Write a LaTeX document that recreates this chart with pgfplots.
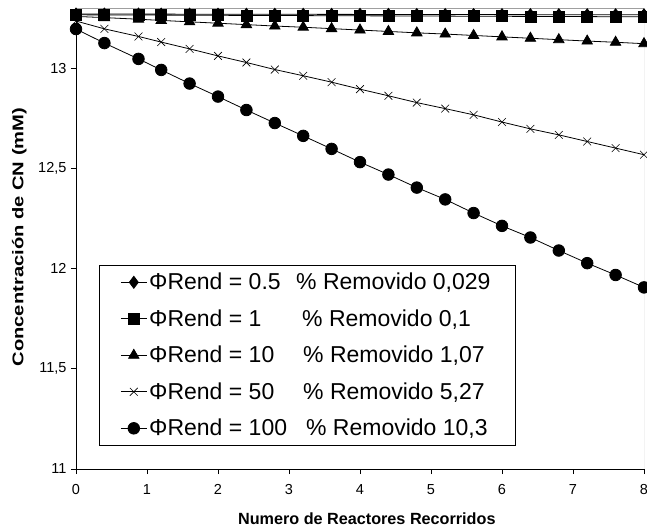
\documentclass[border=0pt]{standalone}
\usepackage{pgfplots}
\usepackage{pgfplotstable}
\pgfplotsset{compat=1.18}
\usepackage{fontspec}
\setmainfont{Liberation Sans}

% Concentración de CN (mM) tras cada reactor, para cada rendimiento
\pgfplotstableread{
x     r05      r1       r10     r50     r100
0     13.2700  13.2660  13.258  13.235  13.195
0.4   13.2698  13.2655  13.252  13.196  13.125
0.88  13.2696  13.2650  13.244  13.158  13.046
1.2   13.2694  13.2645  13.238  13.130  12.991
1.6   13.2692  13.2640  13.231  13.096  12.923
2.0   13.2690  13.2635  13.224  13.061  12.858
2.4   13.2688  13.2630  13.217  13.028  12.791
2.8   13.2686  13.2625  13.210  12.993  12.726
3.2   13.2684  13.2620  13.204  12.962  12.662
3.6   13.2682  13.2615  13.197  12.930  12.597
4.0   13.2680  13.2610  13.190  12.895  12.531
4.4   13.2678  13.2605  13.183  12.862  12.469
4.8   13.2676  13.2600  13.176  12.828  12.404
5.2   13.2674  13.2595  13.170  12.798  12.345
5.6   13.2672  13.2590  13.163  12.767  12.277
6.0   13.2670  13.2585  13.156  12.731  12.213
6.4   13.2668  13.2580  13.149  12.697  12.155
6.8   13.2666  13.2575  13.142  12.667  12.090
7.2   13.2664  13.2570  13.135  12.634  12.027
7.6   13.2662  13.2565  13.129  12.601  11.968
8.0   13.2660  13.2560  13.122  12.568  11.906
}\datos

\begin{document}
\begin{tikzpicture}
\begin{axis}[
  scale only axis,
  width=568pt, height=461pt,
  xmin=0, xmax=8, ymin=11, ymax=13.3,
  xtick={0,1,...,8},
  ytick={11,11.5,12,12.5,13},
  yticklabels={{11},{11,5},{12},{12,5},{13}},
  /pgf/number format/assume math mode=true,
  axis x line*=bottom, axis y line*=left,
  axis line style={black, line width=0.8pt, -},
  tick align=outside, major tick length=5pt,
  tick style={black, line width=0.8pt},
  ticklabel style={font=\fontsize{14.5}{17}\selectfont},
  xticklabel style={yshift=-7pt},
  yticklabel style={xshift=-1pt},
  xlabel={Numero de Reactores Recorridos},
  ylabel={\scalebox{1.3}[1]{Concentración de CN (mM)}},
  xlabel style={font=\bfseries\fontsize{16.2}{19}\selectfont,
    at={(axis description cs:0.512,-0.107)}, anchor=center},
  ylabel style={font=\bfseries\fontsize{15.5}{18}\selectfont,
    at={(axis description cs:-0.100,0.503)}, anchor=center},
  every axis plot/.append style={black, line width=0.8pt, mark options={solid, fill=black}},
  legend image code/.code={
    \draw[mark repeat=2, mark phase=2] plot coordinates {(0pt,0pt) (13pt,0pt) (26pt,0pt)};},
  legend style={
    at={(axis description cs:0.0405,0.0505)}, anchor=south west,
    draw=black, line width=0.8pt, fill=white,
    font=\fontsize{23}{27}\selectfont,
    inner xsep=21pt, inner ysep=7.5pt,
    row sep=17.5pt, column sep=2pt,
    nodes={inner sep=0pt, text height=17pt, text depth=2pt},
    cells={anchor=west}},
]
\draw[gray!75, line width=0.8pt] (rel axis cs:0,1) -- (rel axis cs:1,1) -- (rel axis cs:1,0);

\addplot[mark=diamond*, mark size=6pt] table[x=x, y=r05] {\datos};
\addlegendentry{\makebox[345pt][l]{\makebox[147pt][l]{ΦRend = 0.5}\% Removido 0,029}}
\addplot[mark=square*, mark size=5.5pt] table[x=x, y=r1] {\datos};
\addlegendentry{\makebox[345pt][l]{\makebox[153pt][l]{ΦRend = 1}\% Removido 0,1}}
\addplot[mark=triangle*, mark size=6pt] table[x=x, y=r10] {\datos};
\addlegendentry{\makebox[345pt][l]{\makebox[154pt][l]{ΦRend = 10}\% Removido 1,07}}
\addplot[mark=x, mark size=5.5pt, mark options={line width=0.6pt}] table[x=x, y=r50] {\datos};
\addlegendentry{\makebox[345pt][l]{\makebox[154pt][l]{ΦRend = 50}\% Removido 5,27}}
\addplot[mark=*, mark size=5.8pt] table[x=x, y=r100] {\datos};
\addlegendentry{\makebox[345pt][l]{\makebox[157pt][l]{ΦRend = 100}\% Removido 10,3}}

\coordinate (bl) at (rel axis cs:0,0);
\coordinate (tr) at (rel axis cs:1,1);
\end{axis}
\pgfresetboundingbox
\path[use as bounding box] ([xshift=-76pt,yshift=-58pt]bl) rectangle ([xshift=3pt,yshift=8pt]tr);
\end{tikzpicture}
\end{document}
